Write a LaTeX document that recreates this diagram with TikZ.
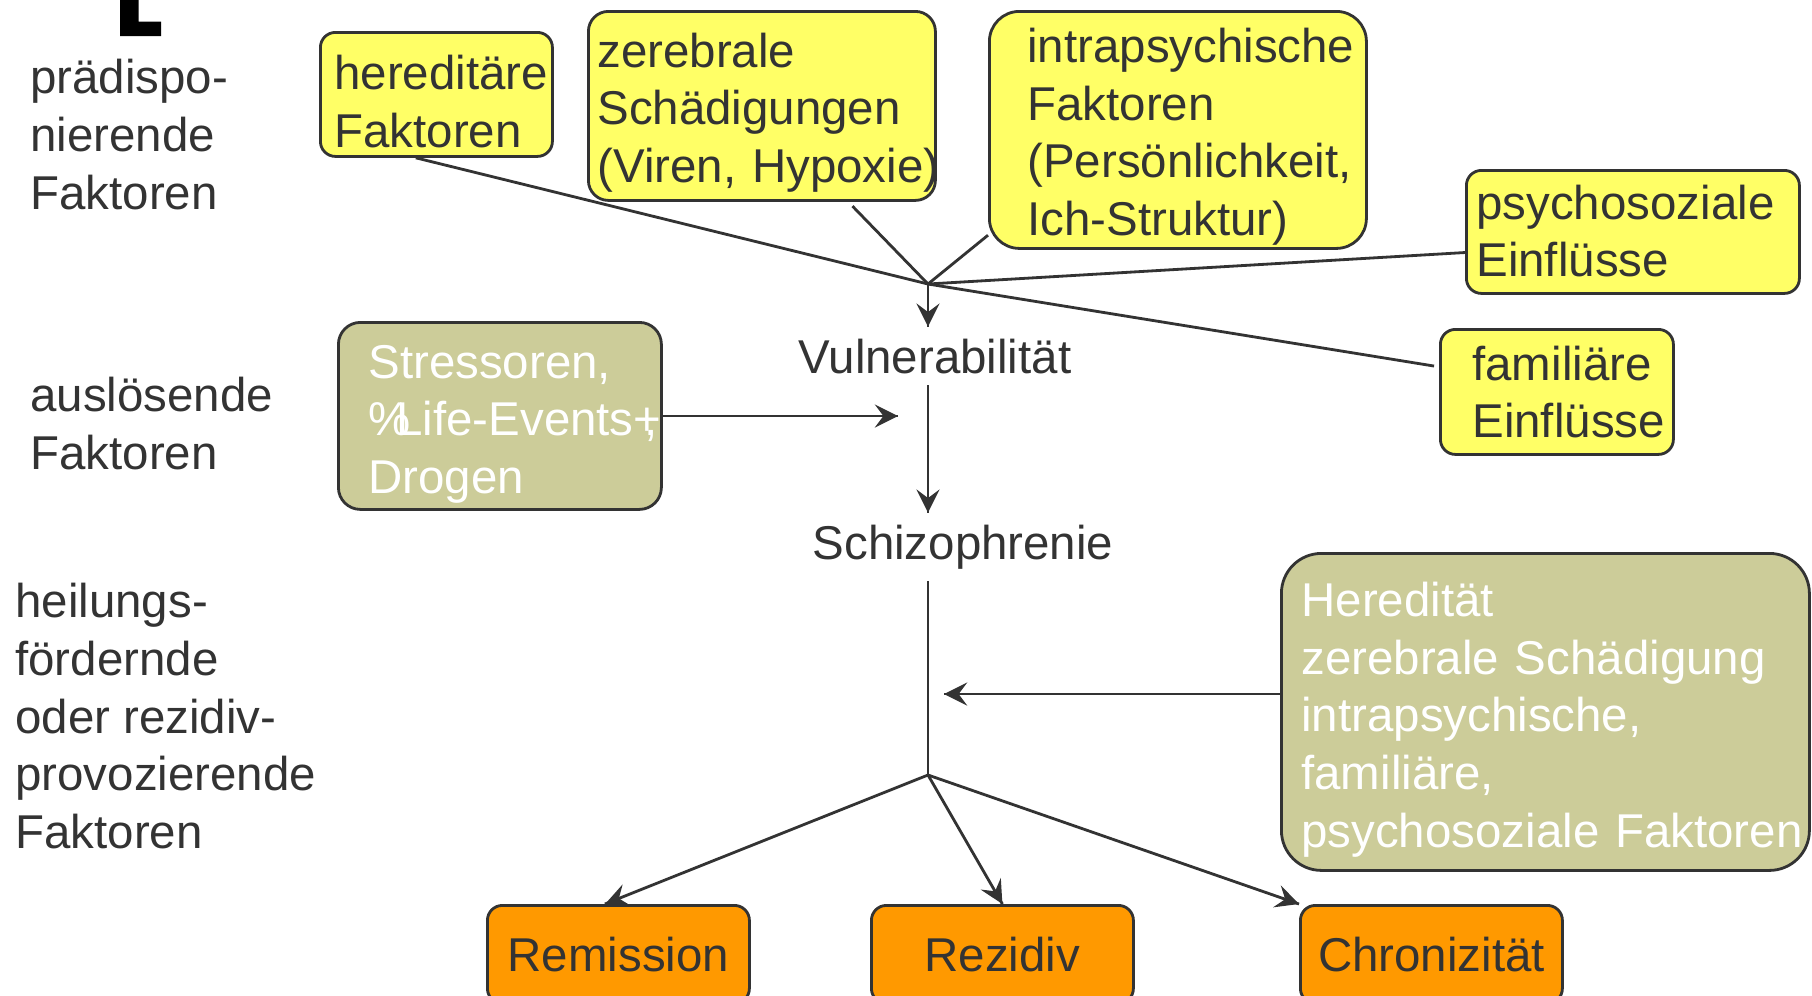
\documentclass[tikz,border=0pt]{standalone}
\usepackage{fontspec}
\setmainfont{Liberation Sans}
\usetikzlibrary{calc,decorations.markings}
\definecolor{dunkel}{RGB}{51,51,51}
\definecolor{gelb}{RGB}{255,255,102}
\definecolor{oliv}{RGB}{204,204,153}
\definecolor{orangefarbe}{RGB}{255,153,0}
\hyphenpenalty=10000
\exhyphenpenalty=10000
\tikzset{pfeil/.style = {decoration={markings, mark=at position 1 with {\arrow[scale=1.6]{stealth}}}, postaction={decorate}}}
\tikzset{kasten/.style = {draw=dunkel, line width=0.8pt, rounded corners=0.15cm, anchor=north west,
                          inner xsep=0pt, inner ysep=0pt, align=left, text=dunkel}}
\tikzset{gelbkasten/.style = {kasten, fill=gelb, execute at begin node={\rule{0pt}{0.48cm}}}}
\tikzset{olivkasten/.style = {kasten, fill=oliv, text=white, execute at begin node={\rule{0pt}{0.50cm}}}}
\tikzset{ergebnis/.style = {kasten, fill=orangefarbe, align=center, minimum width=2.62cm, minimum height=0.98cm}}
\tikzset{seitentext/.style = {text=dunkel, align=left, inner sep=0pt, anchor=north west}}

\begin{document}
\begin{tikzpicture}[font=\fontsize{13.5}{16.4}\selectfont, line width=0.8pt, color=dunkel]
    \useasboundingbox (0,0) rectangle (18.12,-9.95);
    \clip (0,0) rectangle (18.12,-9.95);
    \fill[black] (1.20,0) -- (1.385,0) -- (1.385,-0.217) -- (1.61,-0.217) -- (1.61,-0.36) -- (1.20,-0.36) -- cycle;

    \node[seitentext] (praedisp) at (0.29,-0.58) {prädispo-\\nierende\\Faktoren};
    \node[seitentext] (ausloes) at (0.29,-3.76) {auslösende\\Faktoren};
    \node[seitentext] (heilung) at (0.14,-5.82) {heilungs-\\fördernde\\oder rezidiv-\\provozierende\\Faktoren};

    \node[gelbkasten, minimum width=2.32cm, minimum height=1.24cm, text width=2.04cm] (hered) at (3.19,-0.31) {hereditäre\\Faktoren};
    \node[gelbkasten, minimum width=3.47cm, minimum height=1.89cm, text width=3.29cm, rounded corners=0.2cm] (zereb) at (5.87,-0.10) {zerebrale\\Schädigungen\\(Viren,~Hypoxie)};
    \node[gelbkasten, minimum width=3.77cm, minimum height=2.37cm, text width=3.01cm, rounded corners=0.3cm] (intra) at (9.88,-0.10) {intrapsychische\\Faktoren\\(Persönlichkeit,\\Ich-Struktur)};
    \node[gelbkasten, minimum width=3.33cm, minimum height=1.23cm, text width=3.13cm,
          execute at end node={\rule[-0.16cm]{0pt}{0pt}}] (psycho) at (14.65,-1.69) {psychosoziale\\Einflüsse};
    \node[gelbkasten, minimum width=2.33cm, minimum height=1.25cm, text width=1.69cm,
          execute at end node={\rule[-0.14cm]{0pt}{0pt}}] (famil) at (14.39,-3.28) {familiäre\\Einflüsse};

    \node[olivkasten, minimum width=3.23cm, minimum height=1.87cm, text width=2.63cm, rounded corners=0.22cm] (stress) at (3.37,-3.21) {Stressoren,\\\%\kern-0.3emLife-Events+\kern-0.35em,\\Drogen};
    \node[olivkasten, minimum width=5.28cm, minimum height=3.17cm, text width=4.88cm, rounded corners=0.4cm] (hered2) at (12.80,-5.52) {Heredität\\zerebrale~Schädigung\\intrapsychische,\\familiäre,\\psychosoziale~Faktoren};

    \node[anchor=base, inner sep=3pt] (vuln) at (9.35,-3.73) {Vulnerabilität};
    \node[anchor=base, inner sep=3pt] (schizo) at (9.63,-5.59) {Schizophrenie};

    \node[ergebnis] (remission) at (4.86,-9.04) {Remission};
    \node[ergebnis] (rezidiv) at (8.70,-9.04) {Rezidiv};
    \node[ergebnis] (chron) at (12.99,-9.04) {Chronizität};

    \coordinate (knoten) at (9.28,-2.84);
    \coordinate (gabel) at (9.28,-7.75);
    \coordinate (stressziel) at (8.98,-4.16);
    \coordinate (heredziel) at (9.44,-6.94);

    \draw (hered.-108) -- (knoten);
    \draw[shorten <=0.06cm] (zereb.-48) -- (knoten);
    \draw (intra.-151.5) -- (knoten);
    \draw (psycho.-173) -- (knoten);
    \draw[shorten <=0.05cm] (famil.168.6) -- (knoten);
    \draw[pfeil] (knoten) -- (vuln.north -| knoten);
    \draw[pfeil] (vuln.south -| knoten) -- (schizo.north -| knoten);
    \draw[pfeil] (stress.east |- stressziel) -- (stressziel);
    \draw (schizo.south -| gabel) -- (gabel);
    \draw[pfeil] (hered2.west |- heredziel) -- (heredziel);
    \draw[pfeil] (gabel) -- (remission.105);
    \draw[pfeil] (gabel) -- (rezidiv.north);
    \draw[pfeil] (gabel) -- (chron.north west);
\end{tikzpicture}
\end{document}
